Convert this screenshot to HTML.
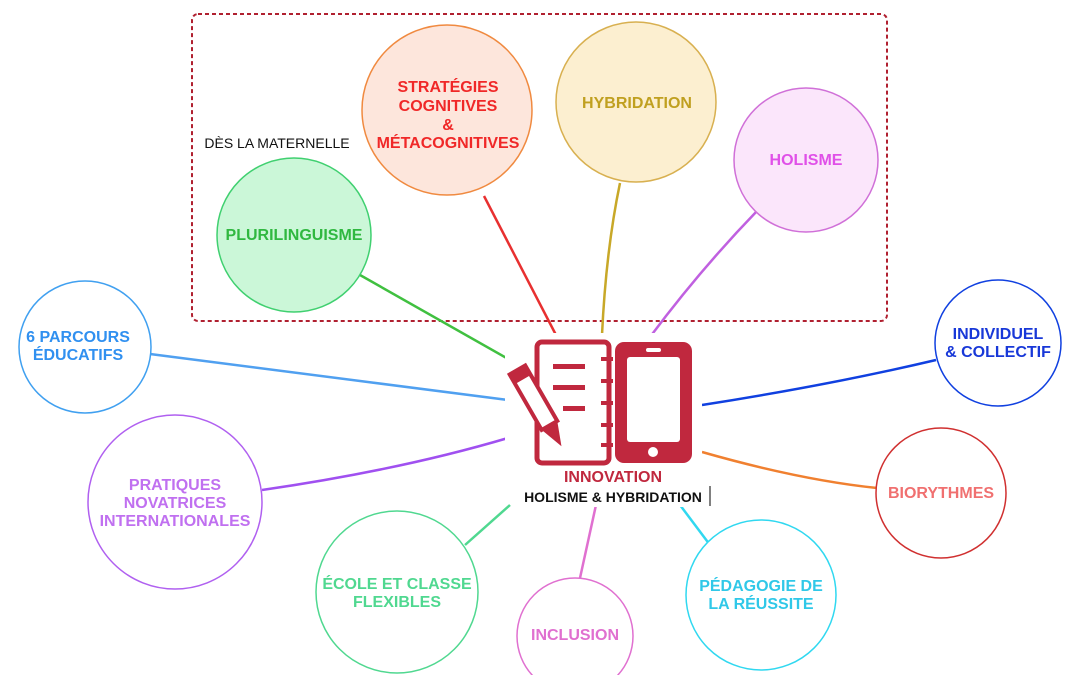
<!DOCTYPE html>
<html><head><meta charset="utf-8"><style>
html,body{margin:0;padding:0;background:#fff;width:1080px;height:675px;overflow:hidden}
svg text{font-family:"Liberation Sans",sans-serif;font-weight:bold;text-anchor:middle}
</style></head><body>
<svg width="1080" height="675" viewBox="0 0 1080 675" xmlns="http://www.w3.org/2000/svg">
<rect x="192" y="14" width="695" height="307" rx="6" fill="none" stroke="#b02030" stroke-width="2" stroke-dasharray="4,3"/>
<text x="277" y="148" style="font-weight:normal" font-size="14" fill="#111">DÈS LA MATERNELLE</text>
<g fill="none" stroke-width="2.5">
<path d="M484 196 L556 335" stroke="#e83030"/>
<path d="M620 183 Q606 250 602 335" stroke="#c8a828"/>
<path d="M757 211 Q700 270 650 337" stroke="#c060e0"/>
<path d="M360 275 L510 360" stroke="#40c040"/>
<path d="M150 354 L508 400" stroke="#50a0f0"/>
<path d="M262 490 Q400 470 508 438" stroke="#a050f0"/>
<path d="M465 545 L510 505" stroke="#50d890"/>
<path d="M580 578 L596 505" stroke="#e070d0"/>
<path d="M710 545 L680 505" stroke="#30d8f0"/>
<path d="M702 405 Q830 385 936 360" stroke="#1040e0"/>
<path d="M702 452 Q800 480 877 488" stroke="#f08030"/>
</g>
<circle cx="447" cy="110" r="85" fill="#fde6dc" stroke="#f08a40" stroke-width="1.5"/>
<circle cx="636" cy="102" r="80" fill="#fcefd0" stroke="#d8b050" stroke-width="1.5"/>
<circle cx="806" cy="160" r="72" fill="#fbe6fb" stroke="#d070d8" stroke-width="1.5"/>
<circle cx="294" cy="235" r="77" fill="#cbf7d8" stroke="#40d070" stroke-width="1.5"/>
<circle cx="85" cy="347" r="66" fill="#fff" stroke="#40a0f0" stroke-width="1.5"/>
<circle cx="175" cy="502" r="87" fill="#fff" stroke="#b060f0" stroke-width="1.5"/>
<circle cx="397" cy="592" r="81" fill="#fff" stroke="#50d890" stroke-width="1.5"/>
<circle cx="575" cy="636" r="58" fill="#fff" stroke="#e070d0" stroke-width="1.5"/>
<circle cx="761" cy="595" r="75" fill="#fff" stroke="#30d8f0" stroke-width="1.5"/>
<circle cx="941" cy="493" r="65" fill="#fff" stroke="#d03030" stroke-width="1.5"/>
<circle cx="998" cy="343" r="63" fill="#fff" stroke="#1040e0" stroke-width="1.5"/>
<g font-size="16">
<text x="448" y="92" fill="#f02828">STRATÉGIES</text>
<text x="448" y="111" fill="#f02828">COGNITIVES</text>
<text x="448" y="130" fill="#f02828">&amp;</text>
<text x="448" y="148" fill="#f02828">MÉTACOGNITIVES</text>
<text x="637" y="108" fill="#c0a020">HYBRIDATION</text>
<text x="806" y="165" fill="#e050e8">HOLISME</text>
<text x="294" y="240" fill="#30b840">PLURILINGUISME</text>
<text x="78" y="342" fill="#3090f0">6 PARCOURS</text>
<text x="78" y="360" fill="#3090f0">ÉDUCATIFS</text>
<text x="175" y="490" fill="#c070f0">PRATIQUES</text>
<text x="175" y="508" fill="#c070f0">NOVATRICES</text>
<text x="175" y="526" fill="#c070f0">INTERNATIONALES</text>
<text x="397" y="589" fill="#50d890">ÉCOLE ET CLASSE</text>
<text x="397" y="607" fill="#50d890">FLEXIBLES</text>
<text x="575" y="640" fill="#e070d0">INCLUSION</text>
<text x="761" y="591" fill="#30c8e8">PÉDAGOGIE DE</text>
<text x="761" y="609" fill="#30c8e8">LA RÉUSSITE</text>
<text x="941" y="498" fill="#f07070">BIORYTHMES</text>
<text x="998" y="339" fill="#1838d8">INDIVIDUEL</text>
<text x="998" y="357" fill="#1838d8">&amp; COLLECTIF</text>
</g>
<rect x="505" y="333" width="197" height="170" rx="20" fill="#fff"/>
<g fill="#c0283e" stroke="none">
<rect x="537" y="342" width="72" height="121" rx="5" fill="none" stroke="#c0283e" stroke-width="5"/>
<rect x="553" y="364" width="32" height="5"/>
<rect x="553" y="385" width="32" height="5"/>
<rect x="563" y="406" width="22" height="5"/>
<rect x="601" y="357" width="12" height="4"/><rect x="601" y="379" width="12" height="4"/><rect x="601" y="401" width="12" height="4"/><rect x="601" y="423" width="12" height="4"/><rect x="601" y="443" width="12" height="4"/>
<g transform="translate(514,372) rotate(-30)">
<rect x="-5" y="0" width="18" height="64" fill="#fff" stroke="#c0283e" stroke-width="4"/>
<rect x="-5" y="0" width="18" height="11"/>
<polygon points="-5,64 13,64 4,88"/>
</g>
<rect x="615" y="342" width="77" height="121" rx="9"/>
<rect x="627" y="357" width="53" height="85" rx="3" fill="#fff"/>
<rect x="646" y="348" width="15" height="4" rx="2" fill="#fff"/>
<circle cx="653" cy="452" r="5" fill="#fff"/>
</g>
<text x="613" y="482" font-size="16" fill="#c0283e">INNOVATION</text>
<rect x="516" y="487" width="195" height="20" fill="#fff"/>
<line x1="710" y1="486" x2="710" y2="506" stroke="#000" stroke-width="1"/>
<text x="613" y="502" font-size="14" fill="#111">HOLISME &amp; HYBRIDATION</text>
</svg>
</body></html>
